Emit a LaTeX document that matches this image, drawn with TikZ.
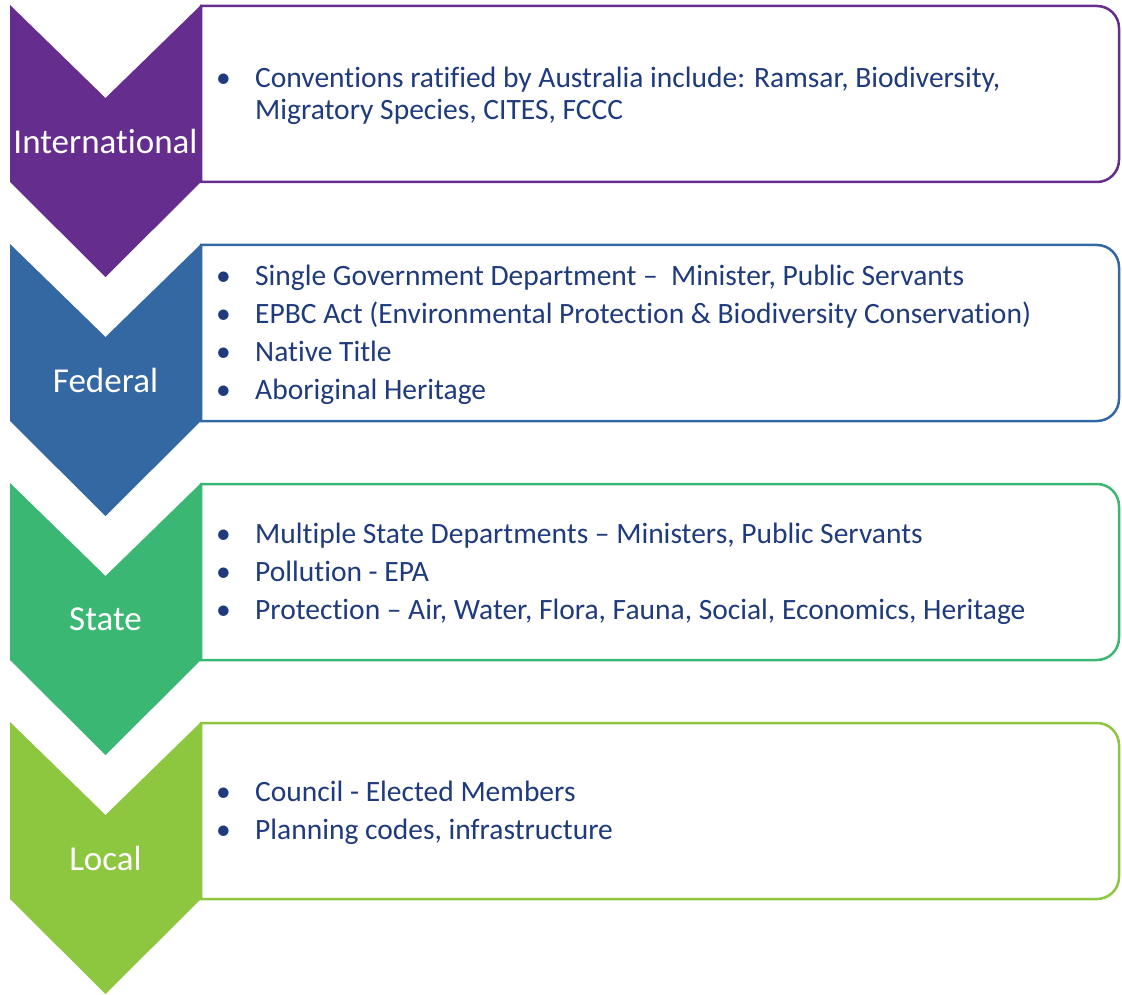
\documentclass[tikz,border=0pt]{standalone}
\usepackage{fontspec}
\setmainfont[RawFeature={-liga;-calt;-dlig}]{Carlito}
\definecolor{cInt}{HTML}{652D8E}
\definecolor{cFed}{HTML}{3468A3}
\definecolor{cSta}{HTML}{3AB772}
\definecolor{cLoc}{HTML}{8DC63F}
\definecolor{txt}{HTML}{1F3B7D}
\newcommand{\bul}{\makebox[37pt][l]{\hspace{-2pt}\textbullet}}
\tikzset{
  lab/.style={text=white,font=\fontsize{35}{40}\selectfont,inner sep=0pt,anchor=center},
  items/.style={text=txt,align=left,anchor=west,inner sep=0pt},
  boxline/.style={line width=2.5pt},
}
\newcommand{\level}[4]{% y0, colour, label, name
  \draw[boxline,#2,fill=white] (201,#1+1) -- (1097,#1+1) arc[start angle=-90,end angle=0,radius=22] -- (1119,#1+155) arc[start angle=0,end angle=90,radius=22] -- (201,#1+177) -- cycle;
  \fill[#2] (10,#1) -- (105.5,#1+93) -- (201,#1) -- (201,#1+177) -- (105.5,#1+272) -- (10,#1+177) -- cycle;
  \node[lab] (#4) at (105.5,#1+136) {#3};
}
\begin{document}
\begin{tikzpicture}[x=1pt,y=-1pt]
\useasboundingbox (0,0) rectangle (1122,995);
\level{5}{cInt}{International}{int}
\level{244}{cFed}{Federal}{fed}
\level{483}{cSta}{State}{sta}
\level{722}{cLoc}{Local}{loc}
\node[items,font=\fontsize{29.5}{32}\selectfont] (intt) at (218,96) {\bul Conventions ratified by Australia include: Ramsar, Biodiversity,\\\hspace{37pt}Migratory Species, CITES, FCCC};
\node[items,font=\fontsize{29.5}{38}\selectfont] (fedt) at (218,335) {\bul Single Government Department --\ \ Minister, Public Servants\\\bul EPBC Act (Environmental Protection \& Biodiversity Conservation)\\\bul Native Title\\\bul Aboriginal Heritage};
\node[items,font=\fontsize{29.5}{38}\selectfont] (stat) at (218,574) {\bul Multiple State Departments -- Ministers, Public Servants\\\bul Pollution - EPA\\\bul Protection -- Air, Water, Flora, Fauna, Social, Economics, Heritage};
\node[items,font=\fontsize{29.5}{38}\selectfont] (loct) at (218,813) {\bul Council - Elected Members\\\bul Planning codes, infrastructure};
\end{tikzpicture}
\end{document}
